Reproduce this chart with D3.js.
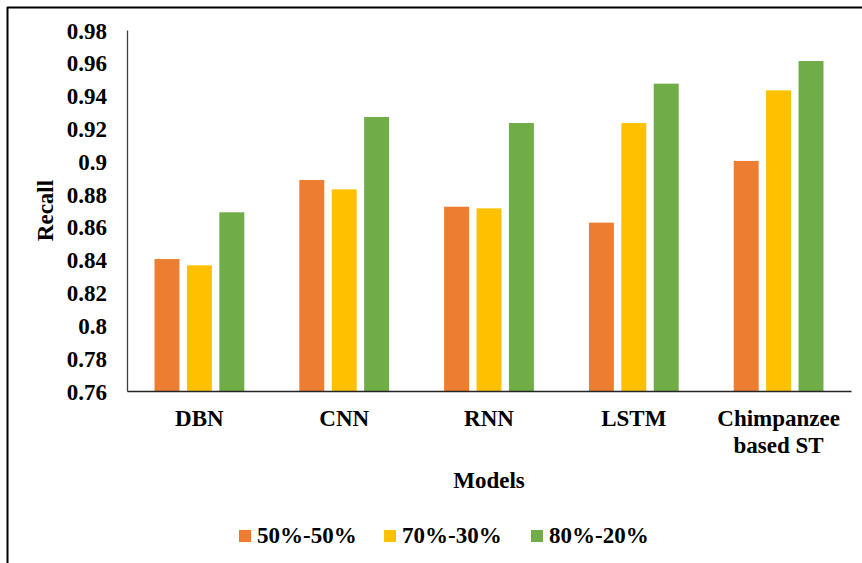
<!DOCTYPE html>
<html>
<head>
<meta charset="utf-8">
<script src="https://cdn.jsdelivr.net/npm/d3@7"></script>
<style>
  html, body { margin: 0; padding: 0; background: #fff; }
  svg { display: block; }
  text { font-family: "Liberation Serif", "Times New Roman", serif; font-weight: bold; fill: #000; }
</style>
</head>
<body>
<svg id="chart" width="862" height="563"></svg>
<script>
// Recall per model for three train/test splits
const models = ["DBN", "CNN", "RNN", "LSTM", "Chimpanzee based ST"];
const splits = ["50%-50%", "70%-30%", "80%-20%"];
const recall5050 = [0.8404, 0.8886, 0.8723, 0.8626, 0.9002];
const recall7030 = [0.8366, 0.8829, 0.8713, 0.9233, 0.9432];
const recall8020 = [0.8689, 0.9270, 0.9233, 0.9473, 0.9611];
const yTicks = [0.76, 0.78, 0.8, 0.82, 0.84, 0.86, 0.88, 0.9, 0.92, 0.94, 0.96, 0.98];
const colors = ["#ED7D31", "#FFC000", "#70AD47"];

const seriesValues = [recall5050, recall7030, recall8020];
const rows = models.map((m, i) => ({
  model: m,
  values: splits.map((s, j) => ({ split: s, value: seriesValues[j][i] }))
}));

const svg = d3.select("#chart");
const fontSize = 23;

// frame lines along the top and left edges
svg.append("line").attr("x1", 7).attr("x2", 862).attr("y1", 7.5).attr("y2", 7.5)
  .attr("stroke", "#000").attr("stroke-width", 2);
svg.append("line").attr("x1", 7.5).attr("x2", 7.5).attr("y1", 7).attr("y2", 563)
  .attr("stroke", "#000").attr("stroke-width", 2);

const plot = { left: 127, right: 851, top: 30, bottom: 391 };

const x0 = d3.scaleBand().domain(models).range([plot.left, plot.right])
  .paddingInner(0.38).paddingOuter(0.19);
const x1 = d3.scaleBand().domain(splits).range([0, x0.bandwidth()])
  .paddingInner(0.23).paddingOuter(0);
const y = d3.scaleLinear().domain([0.76, 0.98]).range([plot.bottom, plot.top]);
const color = d3.scaleOrdinal().domain(splits).range(colors);

// bars
const groups = svg.append("g").selectAll("g").data(rows).join("g")
  .attr("transform", d => `translate(${x0(d.model)},0)`);
groups.selectAll("rect").data(d => d.values).join("rect")
  .attr("x", d => x1(d.split))
  .attr("y", d => y(d.value))
  .attr("width", x1.bandwidth())
  .attr("height", d => y(0.76) - y(d.value))
  .attr("fill", d => color(d.split));

// y axis
const yAxis = d3.axisLeft(y).tickValues(yTicks).tickSize(0).tickPadding(20)
  .tickFormat(d => d3.format("")(+d.toFixed(2)));
const gy = svg.append("g").attr("transform", `translate(${plot.left},0)`).call(yAxis);
gy.select(".domain").attr("stroke", "#404040").attr("stroke-width", 1.3);
gy.selectAll(".tick text").attr("font-size", fontSize).attr("dy", "0.35em")
  .style("font-family", "'Liberation Serif', serif").style("font-weight", "bold").attr("fill", "#000");

// x axis
const xAxis = d3.axisBottom(x0).tickSize(0).tickPadding(0).tickFormat("");
const gx = svg.append("g").attr("transform", `translate(0,${plot.bottom})`).call(xAxis);
gx.select(".domain").attr("stroke", "#262626").attr("stroke-width", 1.5);

// category labels, wrapped for the long name
const catLines = {
  "DBN": ["DBN"], "CNN": ["CNN"], "RNN": ["RNN"], "LSTM": ["LSTM"],
  "Chimpanzee based ST": ["Chimpanzee", "based ST"]
};
gx.selectAll(".tick").each(function(d) {
  const t = d3.select(this).append("text")
    .attr("text-anchor", "middle").attr("font-size", fontSize).attr("y", 35);
  catLines[d].forEach((line, i) => {
    t.append("tspan").attr("x", 0).attr("dy", i === 0 ? 0 : 27).text(line);
  });
});

// axis titles
svg.append("text").attr("x", (plot.left + plot.right) / 2).attr("y", 488)
  .attr("text-anchor", "middle").attr("font-size", fontSize).text("Models");
svg.append("text").attr("transform", `translate(53,${(plot.top + plot.bottom) / 2}) rotate(-90)`)
  .attr("text-anchor", "middle").attr("font-size", fontSize).text("Recall");

// legend
const legendX = [239, 384, 531];
const legend = svg.append("g").selectAll("g").data(splits).join("g")
  .attr("transform", (d, i) => `translate(${legendX[i]},530)`);
legend.append("rect").attr("width", 12).attr("height", 12).attr("fill", d => color(d));
legend.append("text").attr("x", 18).attr("y", 13).attr("font-size", fontSize).text(d => d);
</script>
</body>
</html>
